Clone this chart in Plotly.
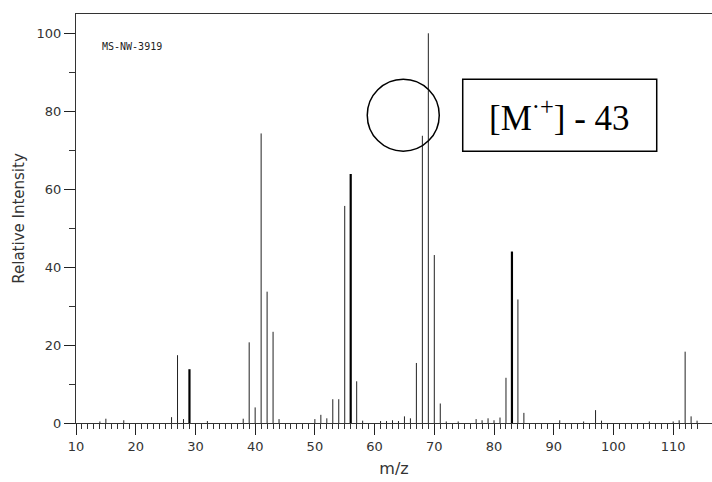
import plotly.graph_objects as go

# ---- data ----
mz = [14, 15, 18, 26, 27, 28, 29, 32, 38, 39, 40, 41, 42, 43, 44,
      50, 51, 52, 53, 54, 55, 56, 57, 58, 61, 62, 63, 64, 65, 66,
      67, 68, 69, 70, 71, 72, 74, 77, 78, 79, 80, 81, 82, 83, 84, 85,
      91, 95, 97, 98, 106, 110, 111, 112, 113, 114]
intensity = [0.4, 1.1, 0.7, 1.5, 17.4, 1.0, 13.8, 0.5, 1.1, 20.7, 4.0, 74.3, 33.7, 23.4, 1.0,
             1.0, 2.1, 1.2, 6.1, 6.1, 55.7, 63.9, 10.7, 0.6, 0.5, 0.5, 0.7, 0.5, 1.7, 1.2,
             15.4, 73.7, 100, 43.1, 5.0, 0.4, 0.4, 1.0, 0.7, 1.2, 0.7, 1.4, 11.6, 44.0, 31.7, 2.6,
             0.7, 0.4, 3.3, 0.6, 0.4, 0.4, 0.7, 18.3, 1.7, 0.6]
x_ticks = [10, 20, 30, 40, 50, 60, 70, 80, 90, 100, 110]
y_ticks = [0, 20, 40, 60, 80, 100]
sample_id = "MS-NW-3919"
callout = "[M<sup>·+</sup>] - 43"
x_title = "m/z"
y_title = "Relative Intensity"

bold_peaks = {29, 56, 83}

def sticks(xs, ys):
    X, Y = [], []
    for a, b in zip(xs, ys):
        X += [a, a, None]
        Y += [0, b, None]
    return X, Y

thin = [(a, b) for a, b in zip(mz, intensity) if a not in bold_peaks]
thick = [(a, b) for a, b in zip(mz, intensity) if a in bold_peaks]

fig = go.Figure()
tx, ty = sticks([p[0] for p in thin], [p[1] for p in thin])
fig.add_trace(go.Scatter(x=tx, y=ty, mode="lines", line=dict(color="#222", width=1),
                         hoverinfo="skip", showlegend=False))
bx, by = sticks([p[0] for p in thick], [p[1] for p in thick])
fig.add_trace(go.Scatter(x=bx, y=by, mode="lines", line=dict(color="#000", width=2.2),
                         hoverinfo="skip", showlegend=False))

minor_x = [v for v in range(11, 115) if v % 10 != 0]

fig.update_layout(
    width=712, height=482,
    margin=dict(l=76, r=0, t=14, b=59),
    plot_bgcolor="white", paper_bgcolor="white",
    font=dict(family="DejaVu Sans", size=13, color="#333"),
    xaxis=dict(range=[10, 116.5], tickvals=x_ticks, ticks="outside", ticklen=11,
               tickcolor="#222", tickwidth=1, showline=True, linecolor="#333",
               linewidth=1, mirror=True, showgrid=False, zeroline=False,
               minor=dict(tickvals=minor_x, ticks="outside", ticklen=5, tickcolor="#333",
                          tickwidth=1, showgrid=False),
               title=dict(text=x_title, font=dict(size=16, color="#333"), standoff=10)),
    yaxis=dict(range=[0, 104.95], tickvals=y_ticks, ticks="outside", ticklen=11,
               tickcolor="#222", tickwidth=1, showline=True, linecolor="#333",
               linewidth=1, showgrid=False, zeroline=False,
               minor=dict(dtick=10, tick0=10, ticks="outside", ticklen=6, tickcolor="#333",
                          tickwidth=1, showgrid=False),
               title=dict(text=y_title, font=dict(size=15, color="#333"), standoff=8)),
)

fig.add_annotation(x=14.1, y=96.5, xref="x", yref="y", text=sample_id, showarrow=False,
                   xanchor="left", yanchor="middle",
                   font=dict(family="DejaVu Sans Mono", size=10, color="#222"))

# circle marker
fig.add_shape(type="circle", xref="x", yref="y", xsizemode="pixel", ysizemode="pixel",
              xanchor=64.8, yanchor=79.0, x0=-36, x1=36, y0=-36, y1=36,
              line=dict(color="#000", width=1.5))
# callout box
fig.add_shape(type="rect", xref="x", yref="y", xsizemode="pixel", ysizemode="pixel",
              xanchor=91.0, yanchor=79.0, x0=-97, x1=97, y0=-36, y1=36,
              line=dict(color="#000", width=1.5), fillcolor="white")
fig.add_annotation(x=91.0, y=79.0, xref="x", yref="y", text=callout, showarrow=False,
                   xanchor="center", yanchor="middle",
                   font=dict(family="Liberation Serif", size=35, color="#000"))

fig.write_html("out.html", config={"displayModeBar": False},
               post_script="document.body.style.margin='0';document.body.style.overflow='hidden';")
